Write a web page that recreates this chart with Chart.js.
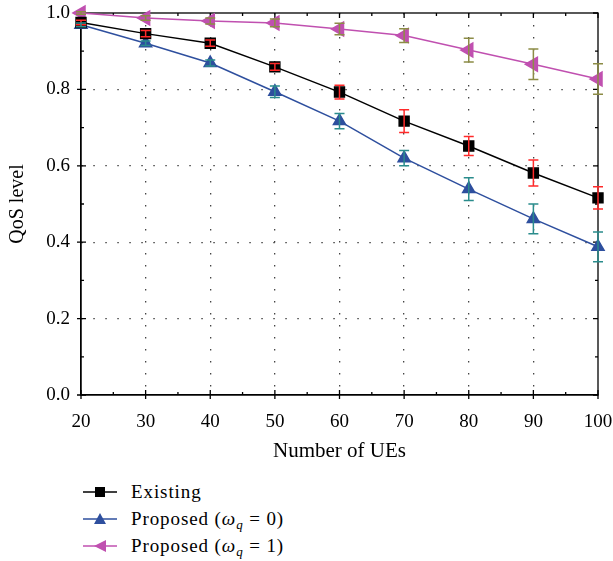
<!DOCTYPE html>
<html>
<head>
<meta charset="utf-8">
<script src="https://cdn.jsdelivr.net/npm/chart.js@4.4.0/dist/chart.umd.min.js"></script>
<style>
  html, body { margin: 0; padding: 0; background: #fff; }
  #wrap { position: relative; width: 613px; height: 561px; }
  #chart { position: absolute; left: 0; top: 0; }
  #legend { position: absolute; left: 83px; top: 478px; font-family: 'Liberation Serif', 'DejaVu Serif', serif; font-size: 19px; letter-spacing: 0.9px; color: #000; }
  .row { height: 27px; display: flex; align-items: center; }
  .row svg { width: 34px; height: 16px; margin-right: 14px; }
  sub { font-size: 13px; vertical-align: -4px; line-height: 0; }
</style>
</head>
<body>
<div id="wrap">
  <canvas id="chart" width="613" height="470"></canvas>
  <div id="legend">
    <div class="row">
      <svg viewBox="0 0 34 16"><line x1="0" y1="8" x2="34" y2="8" stroke="#000" stroke-width="1.5"/><rect x="12" y="3" width="10" height="10" fill="#000"/></svg>
      <span>Existing</span>
    </div>
    <div class="row">
      <svg viewBox="0 0 34 16"><line x1="0" y1="8" x2="34" y2="8" stroke="#2e4f9e" stroke-width="1.5"/><polygon points="17,2 23,13 11,13" fill="#2e4f9e"/></svg>
      <span>Proposed (<i>ω</i><sub><i>q</i></sub> = 0)</span>
    </div>
    <div class="row">
      <svg viewBox="0 0 34 16"><line x1="0" y1="8" x2="34" y2="8" stroke="#c050b0" stroke-width="1.5"/><polygon points="11,8 23,2 23,14" fill="#c050b0"/></svg>
      <span>Proposed (<i>ω</i><sub><i>q</i></sub> = 1)</span>
    </div>
  </div>
</div>
<script>
// valeurs
const ues = [20, 30, 40, 50, 60, 70, 80, 90, 100];
const existing = [0.975, 0.946, 0.921, 0.859, 0.793, 0.717, 0.652, 0.581, 0.516];
const existingErr = [0.006, 0.008, 0.008, 0.009, 0.018, 0.03, 0.025, 0.034, 0.029];
const proposed0 = [0.969, 0.921, 0.869, 0.794, 0.717, 0.620, 0.539, 0.461, 0.388];
const proposed0Err = [0.005, 0.006, 0.008, 0.015, 0.02, 0.02, 0.03, 0.039, 0.039];
const proposed1 = [1.0, 0.987, 0.979, 0.974, 0.958, 0.941, 0.903, 0.866, 0.827];
const proposed1Err = [0.003, 0.006, 0.008, 0.01, 0.015, 0.018, 0.031, 0.04, 0.04];
const yTicks = [0, 0.2, 0.4, 0.6, 0.8, 1.0];

const serif = "'Liberation Serif', 'DejaVu Serif', serif";

function toPoints(vals) {
  return vals.map((v, i) => ({ x: ues[i], y: v }));
}

// barres d'erreur dessinées via les échelles
const errorBars = {
  id: 'errorBars',
  afterDatasetsDraw(chart) {
    const { ctx, scales: { x, y } } = chart;
    chart.data.datasets.forEach(ds => {
      ctx.save();
      ctx.strokeStyle = ds.errorColor;
      ctx.lineWidth = 1.5;
      ds.data.forEach((p, j) => {
        const px = x.getPixelForValue(p.x);
        const top = y.getPixelForValue(p.y + ds.errors[j]);
        const bot = y.getPixelForValue(p.y - ds.errors[j]);
        ctx.beginPath();
        ctx.moveTo(px, top); ctx.lineTo(px, bot);
        ctx.moveTo(px - 5, top); ctx.lineTo(px + 5, top);
        ctx.moveTo(px - 5, bot); ctx.lineTo(px + 5, bot);
        ctx.stroke();
      });
      ctx.restore();
    });
  }
};

// cadre + graduations mineures
const frame = {
  id: 'frame',
  beforeDatasetsDraw(chart) {
    const { ctx, chartArea: a, scales: { x, y } } = chart;
    ctx.save();
    ctx.strokeStyle = '#000';
    ctx.lineWidth = 1.3;
    ctx.strokeRect(a.left, a.top, a.right - a.left, a.bottom - a.top);
    ctx.beginPath();
    for (let v = 20; v <= 100; v += 5) {
      const p = x.getPixelForValue(v);
      const major = v % 10 === 0;
      const inn = major ? 5 : 3;
      ctx.moveTo(p, a.bottom + (major ? 4 : 0)); ctx.lineTo(p, a.bottom - inn);
      ctx.moveTo(p, a.top); ctx.lineTo(p, a.top + inn);
    }
    for (let k = 0; k <= 10; k++) {
      const p = y.getPixelForValue(k / 10);
      const major = k % 2 === 0;
      const inn = major ? 5 : 3;
      ctx.moveTo(a.left - (major ? 4 : 0), p); ctx.lineTo(a.left + inn, p);
      ctx.moveTo(a.right, p); ctx.lineTo(a.right - inn, p);
    }
    ctx.stroke();
    ctx.restore();
  }
};

new Chart(document.getElementById('chart'), {
  type: 'line',
  data: {
    datasets: [
      {
        label: 'Existing',
        data: toPoints(existing),
        errors: existingErr,
        errorColor: '#ff2a2a',
        borderColor: '#000',
        backgroundColor: '#000',
        pointStyle: 'rect',
        pointRadius: 7,
        borderWidth: 1.5,
        clip: false
      },
      {
        label: 'Proposed (ωq = 0)',
        data: toPoints(proposed0),
        errors: proposed0Err,
        errorColor: '#2a8c8c',
        borderColor: '#2e4f9e',
        backgroundColor: '#2e4f9e',
        pointStyle: 'triangle',
        pointRadius: 7,
        borderWidth: 1.5,
        clip: false
      },
      {
        label: 'Proposed (ωq = 1)',
        data: toPoints(proposed1),
        errors: proposed1Err,
        errorColor: '#8c8c46',
        borderColor: '#c050b0',
        backgroundColor: '#c050b0',
        pointStyle: 'triangle',
        pointRotation: 270,
        pointRadius: 8,
        borderWidth: 1.5,
        clip: false
      }
    ]
  },
  options: {
    responsive: false,
    animation: false,
    layout: { autoPadding: false, padding: { top: 13, right: 15, left: 0, bottom: 0 } },
    plugins: { legend: { display: false }, tooltip: { enabled: false } },
    elements: { point: { borderWidth: 0 }, line: { tension: 0 } },
    scales: {
      x: {
        type: 'linear',
        min: 20,
        max: 100,
        ticks: { stepSize: 10, color: '#000', font: { family: serif, size: 19 }, padding: 16 },
        grid: {
          color: c => (c.tick && (c.tick.value === 20 || c.tick.value === 100)) ? 'rgba(0,0,0,0)' : '#444',
          lineWidth: 1.3,
          drawTicks: false
        },
        border: { display: true, color: '#000', width: 1.3, dash: [1.5, 10.5] },
        title: { display: true, text: 'Number of UEs', color: '#000', font: { family: serif, size: 21 }, padding: { top: 4, bottom: 6 } },
        afterFit(s) { s.height = 75; s.paddingLeft = 0; s.paddingRight = 0; }
      },
      y: {
        min: 0,
        max: 1,
        afterBuildTicks(s) { s.ticks = yTicks.map(v => ({ value: v })); },
        ticks: { color: '#000', font: { family: serif, size: 19 }, padding: 11, callback: v => v.toFixed(1) },
        grid: {
          color: c => (c.tick && (c.tick.value === 0 || c.tick.value === 1)) ? 'rgba(0,0,0,0)' : '#444',
          lineWidth: 1.3,
          drawTicks: false
        },
        border: { display: true, color: '#000', width: 1.3, dash: [1.5, 10.5] },
        title: { display: true, text: 'QoS level', color: '#000', font: { family: serif, size: 20 }, padding: { top: 6, bottom: 4 } },
        afterFit(s) { s.width = 81; s.paddingTop = 0; s.paddingBottom = 0; }
      }
    }
  },
  plugins: [frame, errorBars]
});
</script>
</body>
</html>
